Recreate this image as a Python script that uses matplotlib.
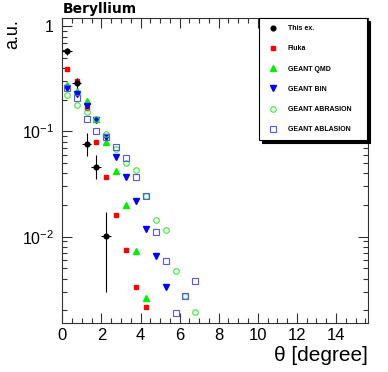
import numpy as np
import matplotlib
matplotlib.use("Agg")
import matplotlib.pyplot as plt
from matplotlib.ticker import FixedLocator, NullFormatter

# bin centres [degree]
theta = [0.23, 0.73, 1.24, 1.74, 2.25, 2.76, 3.26, 3.77, 4.27, 4.78, 5.29, 5.79, 6.30, 6.80]

# measured data (this experiment)
exp_y = [0.578, 0.291, 0.0763, 0.0461, 0.0102]
exp_lo = [0.05, 0.03, 0.018, 0.011, 0.0072]
exp_hi = [0.05, 0.03, 0.021, 0.014, 0.0071]
exp_xerr = [0.25, 0.25, 0.25, 0.25, 0.25]

fluka = [0.396, 0.300, 0.169, 0.0786, 0.0373, 0.0161, 0.00747, 0.00334, 0.00216]
qmd = [0.279, 0.244, 0.193, 0.131, 0.0803, 0.0425, 0.0202, 0.00736, 0.00259]
binc = [0.262, 0.227, 0.173, 0.130, 0.0885, 0.0578, 0.0366, 0.0220, 0.01175, 0.00655, 0.0033]
abrasion = [0.224, 0.178, 0.152, 0.131, 0.095, 0.0689, 0.050, 0.0432, 0.0246,
            0.0143, 0.0115, 0.00468, 0.00272, 0.00192]
ablasion = [0.261, 0.206, 0.131, 0.100, 0.0885, 0.071, 0.0558, 0.0368, 0.0246,
            0.0111, 0.0059, 0.0019, 0.00272, 0.00379]

plt.rcParams['font.family'] = ['Liberation Sans', 'DejaVu Sans']
plt.rcParams['mathtext.fontset'] = 'custom'
plt.rcParams['mathtext.rm'] = 'Liberation Sans'

fig = plt.figure(figsize=(3.88, 3.72), dpi=100)
ax = fig.add_axes([62.3/388, 1-322.7/372, (368.3-62.3)/388, (322.7-18)/372])

n = len(exp_y)
h_exp = ax.errorbar(theta[:n], exp_y, yerr=[exp_lo, exp_hi], xerr=exp_xerr, fmt='o', color='black',
                    ms=3.4, elinewidth=0.8, capsize=0, label='This ex.', zorder=5)
h_fl, = ax.plot(theta[:len(fluka)], fluka, 's', color='#ff0000', ms=3.5, label='Fluka')
h_qmd, = ax.plot(theta[:len(qmd)], qmd, '^', color='#00f000', ms=3.8, label='GEANT QMD')
h_bin, = ax.plot(theta[:len(binc)], binc, 'v', color='#0000ff', ms=3.8, label='GEANT BIN')
h_abr, = ax.plot(theta[:len(abrasion)], abrasion, 'o', mfc='none', mec='#33ee33', mew=0.8, ms=4,
                 label='GEANT ABRASION')
h_abl, = ax.plot(theta[:len(ablasion)], ablasion, 's', mfc='none', mec='#5555ff', mew=0.8, ms=4,
                 label='GEANT ABLASION')

ax.set_yscale('log')
ax.set_xlim(0, 15.65)
ax.set_ylim(0.00152, 1.2)

ax.xaxis.set_major_locator(FixedLocator([0, 2, 4, 6, 8, 10, 12, 14]))
ax.xaxis.set_minor_locator(FixedLocator(np.arange(0, 15.6, 0.5)))
ax.yaxis.set_major_locator(FixedLocator([0.01, 0.1, 1]))
ax.set_yticklabels(['$10^{-2}$', '$10^{-1}$', '1'])
ax.yaxis.set_minor_formatter(NullFormatter())

ax.tick_params(which='both', direction='in', top=True, right=True, labelsize=12, color='#333333')
ax.tick_params(which='major', length=7, width=0.8)
ax.tick_params(which='minor', length=3.5, width=0.8)
ax.tick_params(axis='x', pad=4)
ax.tick_params(axis='y', pad=6, labelsize=11.5)
for s in ax.spines.values():
    s.set_linewidth(0.8)
    s.set_color('#333333')

ax.set_xlabel('θ [degree]', fontsize=15, loc='right')
ax.xaxis.set_label_coords(1.0, -0.075)
ax.set_ylabel('a.u.', fontsize=13, loc='top')
ax.yaxis.set_label_coords(-0.135, 0.995)

fig.text(63/388, 1-12.8/372, 'Beryllium', fontsize=10, fontweight='bold',
         family='DejaVu Sans', va='baseline')

handles = [h_exp[0], h_fl, h_qmd, h_bin, h_abr, h_abl]
names = ['This ex.', 'Fluka', 'GEANT QMD', 'GEANT BIN', 'GEANT ABRASION', 'GEANT ABLASION']
leg = ax.legend(handles=handles, labels=names,
                loc='upper left', bbox_to_anchor=(259.3/388, 1-18.3/372, 108/388, 0),
                bbox_transform=fig.transFigure, mode='expand', numpoints=1,
                prop={'size': 5, 'weight': 'bold'}, fancybox=False,
                shadow={'color': 'black', 'alpha': 1}, framealpha=1, edgecolor='black',
                borderpad=1.0, labelspacing=1.9, handlelength=1.9, handletextpad=1.2,
                borderaxespad=0)
leg.get_frame().set_linewidth(0.8)

fig.savefig('out.png', dpi=100)
